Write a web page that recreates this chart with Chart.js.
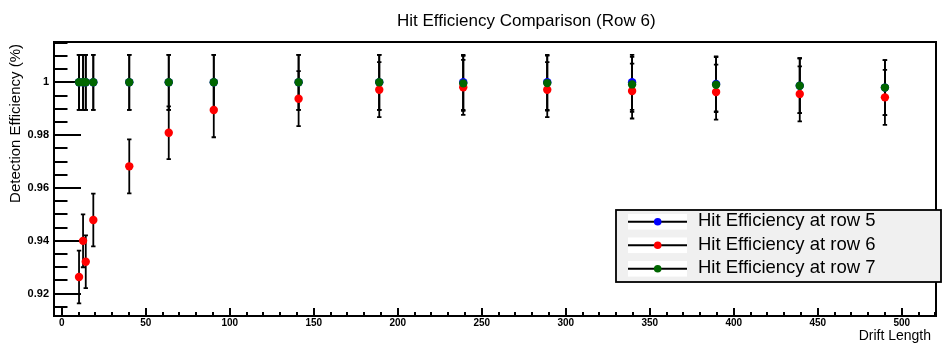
<!DOCTYPE html>
<html><head><meta charset="utf-8">
<script src="https://cdn.jsdelivr.net/npm/chart.js@4.4.1/dist/chart.umd.min.js"></script>
<style>html,body{margin:0;padding:0;background:#fff;overflow:hidden}canvas{display:block}</style>
</head><body>
<canvas id="c" width="943" height="343"></canvas>
<script>
// ---- data ----
const driftLength = [10.3, 12.7, 14.3, 18.8, 40.2, 63.7, 90.5, 141, 189, 239, 289, 339.5, 389.5, 439.3, 490];
const effRow5 = [1, 1, 1, 1, 1, 1, 1, 1, 1, 1, 1, 1, 0.9994, 0.9987, 0.998];
const effRow6 = [0.9263, 0.9400, 0.9321, 0.9479, 0.9682, 0.9809, 0.9895, 0.9938, 0.9972, 0.9981, 0.9972, 0.9967, 0.9963, 0.9956, 0.9943];
const effRow7 = [1, 1, 1, 1, 1, 1, 1, 1, 1, 0.9996, 0.9997, 0.9992, 0.9991, 0.9987, 0.998];
const errRow5 = [0.0104, 0.0104, 0.0104, 0.0104, 0.0104, 0.0104, 0.0104, 0.0104, 0.0104, 0.0104, 0.0104, 0.0104, 0.0104, 0.0104, 0.0104];
const errRow6 = [0.0100, 0.0100, 0.0100, 0.0100, 0.0102, 0.0100, 0.0103, 0.0104, 0.0104, 0.0104, 0.0104, 0.0104, 0.0104, 0.0104, 0.0104];
const errRow7 = [0.0104, 0.0104, 0.0104, 0.0104, 0.0104, 0.0104, 0.0104, 0.0104, 0.0104, 0.0104, 0.0104, 0.0104, 0.0104, 0.0104, 0.0104];
const seriesLabels = ['Hit Efficiency at row 5', 'Hit Efficiency at row 6', 'Hit Efficiency at row 7'];
const seriesColors = ['#0000ff', '#ff0000', '#006600'];
const xTickValues = [0, 50, 100, 150, 200, 250, 300, 350, 400, 450, 500];
const xTickLabels = ['0', '50', '100', '150', '200', '250', '300', '350', '400', '450', '500'];
const yTickValues = [0.92, 0.94, 0.96, 0.98, 1];
const yTickLabels = ['0.92', '0.94', '0.96', '0.98', '1'];
const chartTitle = 'Hit Efficiency Comparison (Row 6)';
const xTitle = 'Drift Length';
const yTitle = 'Detection Efficiency (%)';

const FONT = '"Liberation Sans", Arial, Helvetica, sans-serif';
const effs = [effRow5, effRow6, effRow7];
const errs = [errRow5, errRow6, errRow7];

const datasets = effs.map((e, k) => ({
  label: seriesLabels[k],
  data: driftLength.map((x, i) => ({ x: x, y: e[i] })),
  errors: errs[k],
  showLine: false,
  pointRadius: 4.2,
  pointHoverRadius: 4.2,
  pointBorderWidth: 0,
  backgroundColor: seriesColors[k],
  borderColor: seriesColors[k],
  order: 2 - k
}));

const rootPlugin = {
  id: 'rootStyle',
  beforeDatasetsDraw(chart) {
    const ctx = chart.ctx, a = chart.chartArea, xs = chart.scales.x, ys = chart.scales.y;
    ctx.save();
    ctx.strokeStyle = '#000';
    ctx.lineWidth = 2;
    // inward ticks, x axis (minor every 10, major every 50)
    for (let v = 0; v <= 520; v += 10) {
      const px = Math.round(xs.getPixelForValue(v));
      if (px < a.left || px > a.right) continue;
      const len = (v % 50 === 0) ? 8 : 4;
      ctx.beginPath(); ctx.moveTo(px, a.bottom); ctx.lineTo(px, a.bottom - len); ctx.stroke();
    }
    // inward ticks, y axis (minor every 0.005, major every 0.02)
    for (let k = 183; k <= 203; k++) {
      const py = Math.round(ys.getPixelForValue(k * 0.005));
      if (py < a.top || py > a.bottom) continue;
      const len = (k % 4 === 0) ? 27 : 13.5;
      ctx.beginPath(); ctx.moveTo(a.left, py); ctx.lineTo(a.left + len, py); ctx.stroke();
    }
    // error bars
    ctx.lineWidth = 1.8;
    chart.data.datasets.forEach(ds => {
      ds.data.forEach((p, i) => {
        const px = xs.getPixelForValue(p.x);
        const y1 = ys.getPixelForValue(p.y + ds.errors[i]);
        const y2 = ys.getPixelForValue(p.y - ds.errors[i]);
        ctx.beginPath(); ctx.moveTo(px, y1); ctx.lineTo(px, y2); ctx.stroke();
        ctx.beginPath(); ctx.moveTo(px - 2.2, y1); ctx.lineTo(px + 2.2, y1);
        ctx.moveTo(px - 2.2, y2); ctx.lineTo(px + 2.2, y2); ctx.stroke();
      });
    });
    // frame
    ctx.lineWidth = 2;
    ctx.strokeRect(a.left, a.top, a.right - a.left, a.bottom - a.top);
    ctx.restore();
  },
  afterDatasetsDraw(chart) {
    const ctx = chart.ctx;
    ctx.save();
    ctx.fillStyle = '#000';
    // title
    ctx.font = '17px ' + FONT;
    ctx.textAlign = 'left'; ctx.textBaseline = 'alphabetic';
    ctx.fillText(chartTitle, 397, 25.5);
    // x title
    ctx.font = '14px ' + FONT;
    ctx.textAlign = 'right';
    ctx.fillText(xTitle, 931, 340);
    // y title
    ctx.save();
    ctx.translate(20, 44);
    ctx.rotate(-Math.PI / 2);
    ctx.font = '15px ' + FONT;
    ctx.textAlign = 'right';
    ctx.fillText(yTitle, 0, 0);
    ctx.restore();
    // legend
    const L = 616, T = 210, R = 941, B = 282;
    ctx.fillStyle = '#f0f0f0';
    ctx.fillRect(L, T, R - L, B - T);
    ctx.strokeStyle = '#000'; ctx.lineWidth = 1.8;
    ctx.strokeRect(L, T, R - L, B - T);
    const rowsY = [221.8, 245.3, 268.8];
    chart.data.datasets.forEach((ds, k) => {
      const y = rowsY[k];
      ctx.fillStyle = '#fff';
      ctx.fillRect(628, y - 7.8, 59, 15.6);
      ctx.strokeStyle = '#000'; ctx.lineWidth = 2;
      ctx.beginPath(); ctx.moveTo(628, y); ctx.lineTo(687, y); ctx.stroke();
      ctx.fillStyle = ds.backgroundColor;
      ctx.beginPath(); ctx.arc(657.7, y, 3.8, 0, Math.PI * 2); ctx.fill();
      ctx.fillStyle = '#000';
      ctx.font = '18.5px ' + FONT;
      ctx.textAlign = 'left'; ctx.textBaseline = 'alphabetic';
      ctx.fillText(ds.label, 698, y + 4.5);
    });
    ctx.restore();
  }
};

new Chart(document.getElementById('c'), {
  type: 'scatter',
  data: { datasets: datasets },
  options: {
    responsive: false,
    animation: false,
    events: [],
    layout: { padding: { top: 42, right: 7, left: 0, bottom: 0 } },
    plugins: { legend: { display: false }, tooltip: { enabled: false }, title: { display: false } },
    scales: {
      x: {
        type: 'linear', min: -4.6, max: 520.4,
        afterBuildTicks: s => { s.ticks = xTickValues.map(v => ({ value: v })); },
        afterFit: s => { s.height = 27; },
        grid: { display: false, drawTicks: false },
        border: { display: false },
        ticks: {
          autoSkip: false, maxRotation: 0, padding: 1, color: '#000',
          font: { family: FONT, size: 10, weight: 'bold' },
          callback: (v, i) => xTickLabels[i]
        }
      },
      y: {
        type: 'linear', min: 0.91156, max: 1.01525,
        afterBuildTicks: s => { s.ticks = yTickValues.map(v => ({ value: v })); },
        afterFit: s => { s.width = 54; },
        grid: { display: false, drawTicks: false },
        border: { display: false },
        ticks: {
          autoSkip: false, padding: 5, color: '#000',
          font: { family: FONT, size: 11, weight: 'bold' },
          callback: (v, i) => yTickLabels[i]
        }
      }
    }
  },
  plugins: [rootPlugin]
});
</script>
</body></html>
